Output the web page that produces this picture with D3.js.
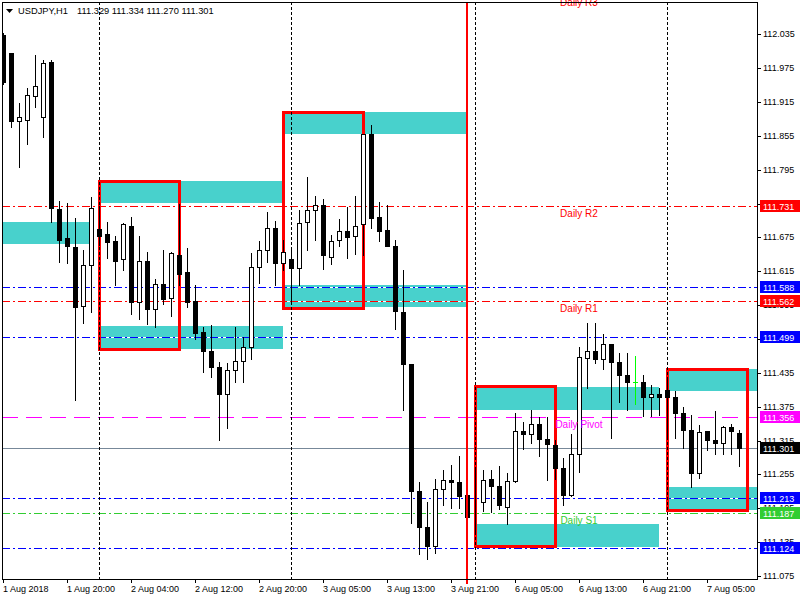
<!DOCTYPE html>
<html><head><meta charset="utf-8">
<script src="https://cdn.jsdelivr.net/npm/d3@7"></script>
<style>
body{margin:0;background:#fff;}
svg{display:block;font-family:"Liberation Sans",Arial,sans-serif;}
</style></head><body>
<svg id="c" width="800" height="600"></svg>
<script>
// ---------------- DATA ----------------
const symbolTitle = "USDJPY,H1";
const lastQuote = [111.329, 111.334, 111.270, 111.301];

const opens = [112.034,112.001,111.882,111.884,111.926,111.889,111.986,111.726,111.674,111.658,
111.554,111.627,111.690,111.681,111.669,111.636,111.696,111.561,111.634,111.548,
111.592,111.567,111.643,111.613,111.562,111.507,111.474,111.445,111.397,111.440,
111.456,111.480,111.622,111.653,111.691,111.630,111.636,111.621,111.702,111.723,
111.732,111.640,111.670,111.686,111.677,111.698,111.858,111.711,111.688,111.660,
111.543,111.451,111.226,111.162,111.128,111.230,111.245,111.241,111.219,111.210,
111.207,111.247,111.235,111.198,111.244,111.332,111.326,111.345,111.318,111.307,
111.266,111.219,111.291,111.461,111.474,111.459,111.487,111.454,111.431,111.418,
111.418,111.392,111.397,111.404,111.393,111.363,111.334,111.257,111.332,111.316,
111.311,111.339,111.329];
const highs = [112.037,112.001,111.913,111.939,111.998,111.990,111.990,111.740,111.736,111.709,
111.653,111.746,111.730,111.702,111.678,111.701,111.711,111.678,111.649,111.601,
111.653,111.649,111.734,111.656,111.591,111.517,111.520,111.454,111.452,111.516,
111.498,111.647,111.669,111.720,111.704,111.671,111.656,111.724,111.782,111.749,
111.743,111.679,111.708,111.729,111.749,111.858,111.874,111.737,111.733,111.671,
111.617,111.451,111.241,111.206,111.247,111.263,111.272,111.288,111.285,111.262,
111.263,111.263,111.270,111.258,111.364,111.348,111.369,111.356,111.356,111.316,
111.284,111.326,111.481,111.523,111.523,111.503,111.487,111.470,111.470,111.464,
111.431,111.414,111.408,111.422,111.402,111.375,111.360,111.343,111.332,111.368,
111.341,111.345,111.334];
const lows = [111.947,111.871,111.800,111.840,111.906,111.853,111.703,111.632,111.630,111.387,
111.523,111.542,111.662,111.639,111.590,111.618,111.539,111.530,111.521,111.517,
111.557,111.535,111.591,111.551,111.495,111.437,111.428,111.316,111.337,111.418,
111.418,111.459,111.594,111.631,111.590,111.617,111.558,111.590,111.653,111.671,
111.619,111.628,111.659,111.639,111.646,111.643,111.691,111.669,111.660,111.513,
111.369,111.169,111.114,111.105,111.115,111.200,111.196,111.196,111.176,111.150,
111.190,111.189,111.193,111.167,111.241,111.300,111.310,111.288,111.246,111.247,
111.200,111.217,111.260,111.409,111.452,111.441,111.319,111.384,111.369,111.379,
111.359,111.359,111.360,111.322,111.319,111.301,111.232,111.248,111.298,111.291,
111.291,111.291,111.270];
const closes = [111.951,111.882,111.888,111.927,111.943,111.984,111.727,111.671,111.659,111.552,
111.626,111.727,111.678,111.667,111.634,111.698,111.561,111.634,111.548,111.592,
111.566,111.647,111.611,111.560,111.506,111.473,111.446,111.397,111.440,111.456,
111.480,111.622,111.652,111.691,111.630,111.649,111.621,111.700,111.723,111.732,
111.643,111.668,111.686,111.676,111.695,111.858,111.709,111.687,111.660,111.545,
111.450,111.225,111.162,111.128,111.229,111.245,111.241,111.217,111.180,111.209,
111.245,111.235,111.200,111.244,111.332,111.326,111.345,111.317,111.309,111.267,
111.219,111.291,111.463,111.474,111.459,111.487,111.454,111.432,111.418,111.418,
111.393,111.397,111.393,111.393,111.363,111.334,111.258,111.331,111.316,111.311,
111.339,111.332,111.301];

// time axis (bar index -> label)
const timeTickIndex = [0,8,16,24,32,40,48,56,64,72,80,88];
const timeTickLabels = ["1 Aug 2018","1 Aug 20:00","2 Aug 04:00","2 Aug 12:00","2 Aug 20:00",
  "3 Aug 05:00","3 Aug 13:00","3 Aug 21:00","6 Aug 05:00","6 Aug 13:00","6 Aug 21:00","7 Aug 05:00"];
const daySeparatorIndex = [12,36,59,83];
const verticalLineIndex = [58];

// price axis
const priceTicks = [112.035,111.975,111.915,111.855,111.795,111.735,111.675,111.615,111.555,
  111.495,111.435,111.375,111.315,111.255,111.195,111.135,111.075];

// cyan zones
const zoneStart  = [-20, 12, 12, 35, 35, 59, 59, 83, 83];
const zoneEnd    = [ 11, 35, 35, 58, 58, 82, 82, 100, 100];
const zoneTop    = [111.702,111.775,111.518,111.897,111.591,111.410,111.167,111.441,111.232];
const zoneBottom = [111.663,111.736,111.477,111.858,111.551,111.370,111.127,111.402,111.192];

// red session boxes
const boxStart  = [12, 35, 59, 83];
const boxEnd    = [22, 45, 69, 93];
const boxTop    = [111.775,111.897,111.411,111.441];
const boxBottom = [111.477,111.550,111.128,111.192];

// horizontal levels
const levelValues = [112.105,111.731,111.588,111.562,111.499,111.356,111.301,111.213,111.187,111.124];
const levelKinds  = ["R","R","blue","R","blue","P","bid","blue","S","blue"];
const levelLabels = ["Daily R3","Daily R2","","Daily R1","","Daily Pivot","","","Daily S1",""];
const levelLabelIndex = 72;

// ---------------- STYLE ----------------
const kindStyle = {
  R:    {color:"#ff0000", dash:"8,3,2,3", tag:"#ff0000"},
  blue: {color:"#0000ff", dash:"8,3,2,3", tag:"#0000ff"},
  P:    {color:"#ff00ff", dash:"16,8",    tag:"#ff00ff"},
  bid:  {color:"#778899", dash:null,      tag:"#000000"},
  S:    {color:"#32cd32", dash:"8,3,2,3", tag:"#32cd32"}
};
const plotL=2, plotT=2, plotR=757, plotB=579;

const x = d3.scaleLinear().domain([0,92]).range([3,739]);
const y = d3.scaleLinear().domain([111.075,112.035]).range([576,34.3]);
const px = v => Math.round(x(v));
const py = v => Math.round(y(v));

const svg = d3.select('#c');
svg.append('rect').attr('width',800).attr('height',600).attr('fill','#fff');
svg.append('defs').append('clipPath').attr('id','plot')
  .append('rect').attr('x',plotL+1).attr('y',plotT+1).attr('width',plotR-plotL-1).attr('height',plotB-plotT-1);
const plot = svg.append('g').attr('clip-path','url(#plot)');

// zones
plot.selectAll('rect.zone').data(d3.range(zoneTop.length)).join('rect')
  .attr('class','zone')
  .attr('x',k=>px(zoneStart[k])).attr('width',k=>px(zoneEnd[k])-px(zoneStart[k]))
  .attr('y',k=>py(zoneTop[k])).attr('height',k=>py(zoneBottom[k])-py(zoneTop[k]))
  .attr('fill','#48d1cc');

// horizontal levels
const lv = d3.range(levelValues.length);
plot.selectAll('line.lvbg').data(lv.filter(k=>kindStyle[levelKinds[k]].dash)).join('line')
  .attr('x1',plotL).attr('x2',plotR)
  .attr('y1',k=>py(levelValues[k])+0.5).attr('y2',k=>py(levelValues[k])+0.5)
  .attr('stroke','#fff').attr('stroke-width',1);
plot.selectAll('line.lv').data(lv).join('line')
  .attr('x1',plotL).attr('x2',plotR)
  .attr('y1',k=>py(levelValues[k])+0.5).attr('y2',k=>py(levelValues[k])+0.5)
  .attr('stroke',k=>kindStyle[levelKinds[k]].color)
  .attr('stroke-dasharray',k=>kindStyle[levelKinds[k]].dash)
  .attr('stroke-width',1);

// red boxes
plot.selectAll('rect.box').data(d3.range(boxStart.length)).join('rect')
  .attr('x',k=>px(boxStart[k])+0.5).attr('width',k=>px(boxEnd[k])-px(boxStart[k]))
  .attr('y',k=>py(boxTop[k])+0.5).attr('height',k=>py(boxBottom[k])-py(boxTop[k]))
  .attr('fill','none').attr('stroke','#ff0000').attr('stroke-width',3);

// day separators
plot.selectAll('line.sep').data(daySeparatorIndex).join('line')
  .attr('x1',d=>px(d)+0.5).attr('x2',d=>px(d)+0.5)
  .attr('y1',plotT).attr('y2',plotB)
  .attr('stroke','#000').attr('stroke-dasharray','3,2').attr('stroke-width',1);

// red vertical line
svg.selectAll('line.vl').data(verticalLineIndex).join('line')
  .attr('x1',d=>px(d)).attr('x2',d=>px(d))
  .attr('y1',plotT).attr('y2',plotB+5)
  .attr('stroke','#ff0000').attr('stroke-width',2);

// candles
const idx = d3.range(opens.length);
const cg = plot.append('g');
cg.selectAll('line.wick').data(idx).join('line')
  .attr('x1',i=>px(i)+0.5).attr('x2',i=>px(i)+0.5)
  .attr('y1',i=>py(highs[i])).attr('y2',i=>py(lows[i])+1)
  .attr('stroke',i=>opens[i]===closes[i]?'#00ff00':'#000').attr('stroke-width',1);
cg.selectAll('rect.body').data(idx.filter(i=>opens[i]!==closes[i])).join('rect')
  .attr('x',i=>px(i)-1.5).attr('width',4)
  .attr('y',i=>py(Math.max(opens[i],closes[i]))+0.5)
  .attr('height',i=>Math.max(0,py(Math.min(opens[i],closes[i]))-py(Math.max(opens[i],closes[i]))))
  .attr('fill',i=>closes[i]>opens[i]?'#fff':'#000')
  .attr('stroke','#000').attr('stroke-width',1);
cg.selectAll('line.doji').data(idx.filter(i=>opens[i]===closes[i])).join('line')
  .attr('x1',i=>px(i)-2).attr('x2',i=>px(i)+3)
  .attr('y1',i=>py(opens[i])+0.5).attr('y2',i=>py(opens[i])+0.5)
  .attr('stroke','#00ff00').attr('stroke-width',1);

// level text labels
svg.selectAll('text.lvl').data(lv.filter(k=>levelLabels[k])).join('text')
  .attr('x',px(levelLabelIndex)).attr('y',k=>py(levelValues[k])+11)
  .attr('text-anchor','middle').attr('font-size',10)
  .attr('fill',k=>kindStyle[levelKinds[k]].color)
  .text(k=>levelLabels[k]);

// frame
const fr = svg.append('g').attr('stroke','#000').attr('stroke-width',1);
fr.append('line').attr('x1',plotL+0.5).attr('x2',plotL+0.5).attr('y1',plotT).attr('y2',plotB+1);
fr.append('line').attr('x1',plotL).attr('x2',plotR+1).attr('y1',plotT+0.5).attr('y2',plotT+0.5);
fr.append('line').attr('x1',plotL).attr('x2',plotR+1).attr('y1',plotB+0.5).attr('y2',plotB+0.5);
fr.append('line').attr('x1',plotR+0.5).attr('x2',plotR+0.5).attr('y1',plotT).attr('y2',plotB+1);

// price tags (levels inside the visible range)
const tagK = lv.filter(k=>levelValues[k]<=112.035);
const yr = y.copy().interpolate(d3.interpolateRound);
// tick labels completely hidden behind a tag are not drawn
const hiddenTick = v => tagK.some(k=>Math.abs(py(levelValues[k])-yr(v))<4);

// y axis
const ya = svg.append('g').attr('transform',`translate(${plotR},0)`)
  .call(d3.axisRight(yr).tickValues(priceTicks)
    .tickFormat(v=>hiddenTick(v)?'':d3.format('.3f')(v)).tickSize(4).tickPadding(2).tickSizeOuter(0));
ya.select('.domain').remove();
ya.attr('font-family','"Liberation Sans",Arial,sans-serif').attr('font-size',9);
ya.selectAll('text').attr('fill','#000');

// x axis
const xr = x.copy().interpolate(d3.interpolateRound);
const xa = svg.append('g').attr('transform',`translate(0,${plotB})`)
  .call(d3.axisBottom(xr).tickValues(timeTickIndex).tickFormat((d,k)=>timeTickLabels[k]).tickSize(4).tickPadding(3).tickSizeOuter(0));
xa.select('.domain').remove();
xa.attr('font-family','"Liberation Sans",Arial,sans-serif').attr('font-size',9);
xa.selectAll('text').attr('text-anchor','start').attr('x',-0.5).attr('fill','#000');

const tags = svg.selectAll('g.tag').data(tagK).join('g')
  .attr('transform',k=>`translate(760,${py(levelValues[k])})`);
tags.append('rect').attr('x',0).attr('y',-6).attr('width',40).attr('height',12)
  .attr('fill',k=>kindStyle[levelKinds[k]].tag);
tags.append('text').attr('x',3).attr('y',3.5).attr('font-size',9).attr('fill','#fff')
  .text(k=>levelValues[k].toFixed(3));

// title
svg.append('path').attr('d','M6,9L13,9L9.5,13Z').attr('fill','#000');
svg.append('text').attr('x',18).attr('y',14).attr('font-size',9.3).attr('fill','#000').text(symbolTitle);
svg.append('text').attr('x',77).attr('y',14).attr('font-size',9.3).attr('fill','#000')
  .text(lastQuote.map(v=>v.toFixed(3)).join(' '));
</script>
</body></html>
